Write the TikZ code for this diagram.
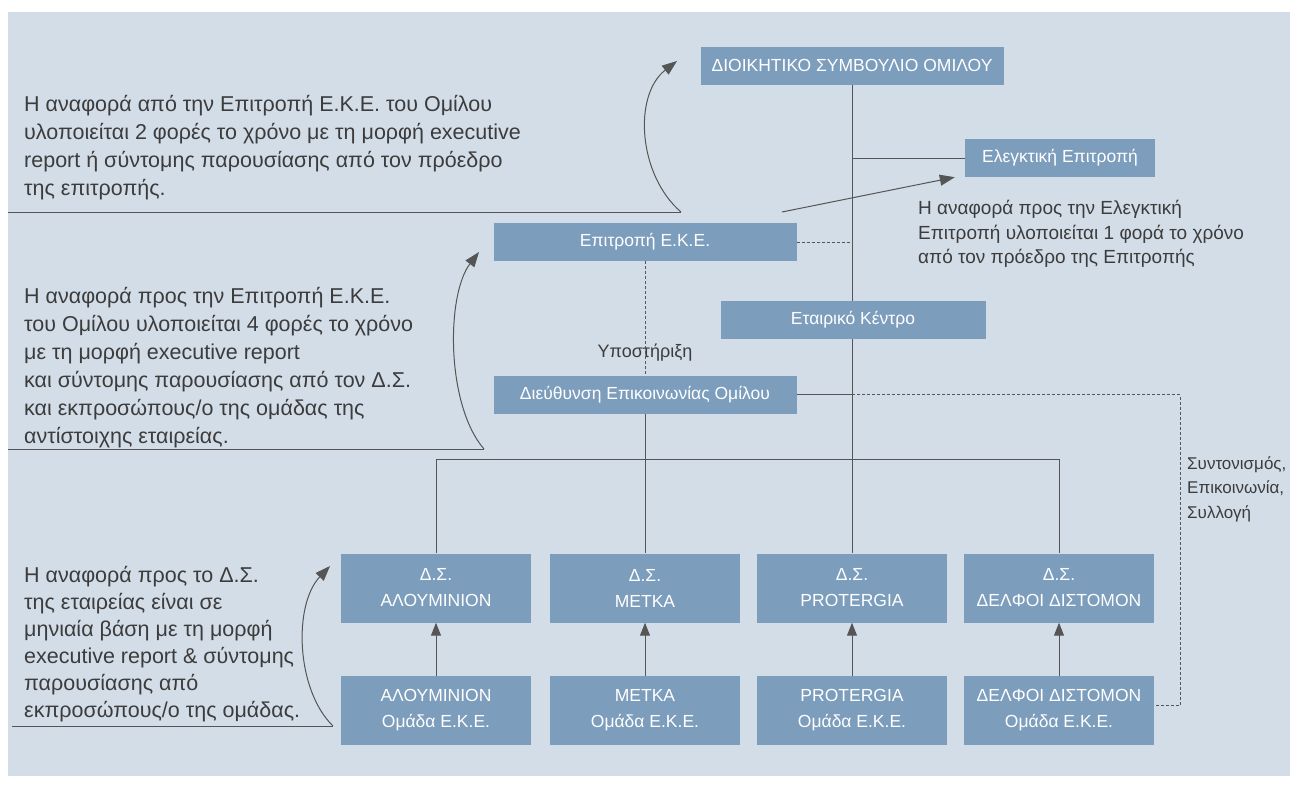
\documentclass[tikz,border=0pt]{standalone}
\usepackage{fontspec}
\setmainfont{Liberation Sans}
\usetikzlibrary{positioning,arrows.meta}
\definecolor{bgblue}{HTML}{D3DDE8}
\definecolor{boxblue}{HTML}{7C9DBC}
\definecolor{txtgray}{HTML}{3C3C3C}
\definecolor{linegray}{HTML}{555555}

\begin{document}
\begin{tikzpicture}[x=1pt, y=-1pt, node distance = 122.5pt,
        box/.style={fill=boxblue, text=white, inner sep=0pt, align=center,
            minimum height=38pt, font=\fontsize{17.5}{26}\selectfont},
        bigbox/.style={box, minimum width=190pt, minimum height=69pt},
        note/.style={text=txtgray, inner sep=0pt, align=left, anchor=north west,
            font=\fontsize{21.5}{28}\selectfont},
        link/.style={draw=linegray, line width=1pt},
        dots/.style={link, dash pattern=on 3pt off 2pt},
        tip/.style={link, -{Triangle[length=13pt, width=10pt]}},
        bigtip/.style={link, -{Triangle[length=15pt, width=11pt]}}]
        \useasboundingbox (0,0) rectangle (1296,788);
        \fill [bgblue] (8,12) rectangle (1290,776);

        \node [box, minimum width=303pt] (board) at (852,65.5) {ΔΙΟΙΚΗΤΙΚΟ ΣΥΜΒΟΥΛΙΟ ΟΜΙΛΟΥ};
        \node [box, minimum width=190pt] (audit) at (1060,158) {Ελεγκτική Επιτροπή};
        \node [box, minimum width=303pt] (csr) at (645,242) {Επιτροπή Ε.Κ.Ε.};
        \node [box, minimum width=265pt] (corp) at (853,320) {Εταιρικό Κέντρο};
        \node [box, minimum width=303pt] (comm) at (645,394.5) {Διεύθυνση Επικοινωνίας Ομίλου};
        \node [text=txtgray, font=\fontsize{18}{22}\selectfont] (support) at (645,353) {Υποστήριξη};

        \node [bigbox] (dsAlu) at (436,588) {Δ.Σ.\\ΑΛΟΥΜΙΝΙΟΝ};
        \node [bigbox] (dsMetka) at (645,588) {Δ.Σ.\\ΜΕΤΚΑ};
        \node [bigbox] (dsProt) at (852,588) {Δ.Σ.\\PROTERGIA};
        \node [bigbox] (dsDelf) at (1059,588) {Δ.Σ.\\ΔΕΛΦΟΙ ΔΙΣΤΟΜΟΝ};
        \node [bigbox, below of = dsAlu] (teamAlu) {ΑΛΟΥΜΙΝΙΟΝ\\Ομάδα Ε.Κ.Ε.};
        \node [bigbox, below of = dsMetka] (teamMetka) {ΜΕΤΚΑ\\Ομάδα Ε.Κ.Ε.};
        \node [bigbox, below of = dsProt] (teamProt) {PROTERGIA\\Ομάδα Ε.Κ.Ε.};
        \node [bigbox, below of = dsDelf] (teamDelf) {ΔΕΛΦΟΙ ΔΙΣΤΟΜΟΝ\\Ομάδα Ε.Κ.Ε.};

        % notes on the left and right
        \node [note] (noteBoard) at (24,95) {Η αναφορά από την Επιτροπή Ε.Κ.Ε. του Ομίλου\\υλοποιείται 2 φορές το χρόνο με τη μορφή executive\\report ή σύντομης παρουσίασης από τον πρόεδρο\\της επιτροπής.};
        \node [note] (noteCsr) at (24,287) {Η αναφορά προς την Επιτροπή Ε.Κ.Ε.\\του Ομίλου υλοποιείται 4 φορές το χρόνο\\με τη μορφή executive report\\και σύντομης παρουσίασης από τον Δ.Σ.\\και εκπροσώπους/ο της ομάδας της\\αντίστοιχης εταιρείας.};
        \node [note, font=\fontsize{21.5}{27}\selectfont] (noteDs) at (24,566) {Η αναφορά προς το Δ.Σ.\\της εταιρείας είναι σε\\μηνιαία βάση με τη μορφή\\executive report \& σύντομης\\παρουσίασης από\\εκπροσώπους/ο της ομάδας.};
        \node [note, font=\fontsize{19}{24.5}\selectfont] (noteAudit) at (918,200) {Η αναφορά προς την Ελεγκτική\\Επιτροπή υλοποιείται 1 φορά το χρόνο\\από τον πρόεδρο της Επιτροπής};
        \node [note, font=\fontsize{17}{24.5}\selectfont] (noteCoord) at (1187,456) {Συντονισμός,\\Επικοινωνία,\\Συλλογή};

        % tree
        \coordinate (busL) at (436,459);
        \coordinate (busR) at (1059,459);
        \coordinate (turn) at (1180,705);
        \draw [link] (board.south) -- (board.south |- corp.north);
        \draw [link] (board.south |- corp.south) -- (dsProt.north);
        \draw [link] (board.south |- audit.west) -- (audit.west);
        \draw [dots] (csr.east) -- (csr.east -| board.south);
        \draw [dots] (csr.south) -- (comm.north);
        \draw [link] (comm.south) -- (dsMetka.north);
        \draw [link] (dsAlu.north) -- (busL) -- (busR) -- (dsDelf.north);
        \draw [link] (comm.east) -- (comm.east -| board.south);
        \draw [dots] (comm.east -| board.south) -| (turn) -- (turn -| teamDelf.east);
        \foreach \co in {Alu, Metka, Prot, Delf}
            \draw [tip] (team\co.north) -- (ds\co.south);

        % report arrows
        \coordinate (endBoard) at (681,212);
        \coordinate (endCsr) at (484,449);
        \coordinate (endDs) at (333,726);
        \draw [link] (8,212) -- (endBoard);
        \draw [link] (8,449) -- (endCsr);
        \draw [link] (12,726) -- (endDs);
        \draw [bigtip] (endBoard) .. controls (638,175) and (633,95) .. (677,61);
        \draw [bigtip] (endCsr) .. controls (446,405) and (446,295) .. (479,252);
        \draw [bigtip] (endDs) .. controls (296,690) and (293,605) .. (330,566);
        \draw [bigtip] (782,212) -- ([xshift=-10pt]audit.south west);
    \end{tikzpicture}
\end{document}
